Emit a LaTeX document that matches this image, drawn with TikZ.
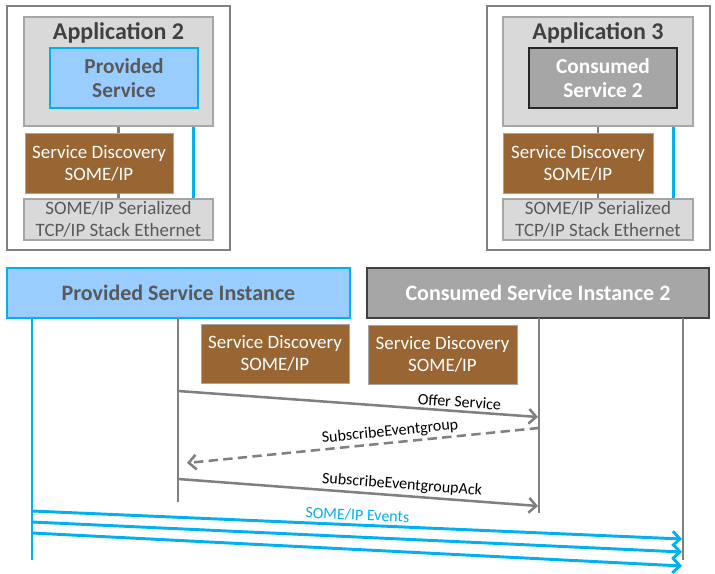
\documentclass[tikz,border=0pt]{standalone}
\usepackage{fontspec}
\setmainfont{Carlito}
\usetikzlibrary{arrows.meta,calc}
\definecolor{lblue}{HTML}{99CCFF}
\definecolor{sblue}{HTML}{00B0F0}
\definecolor{lgray}{HTML}{D9D9D9}
\definecolor{mgray}{HTML}{A6A6A6}
\definecolor{dgray}{HTML}{808080}
\definecolor{sdbrown}{HTML}{996633}
\definecolor{txtgray}{HTML}{595959}
\definecolor{ttlgray}{HTML}{404040}
\begin{document}
\begin{tikzpicture}[x=0.75pt,y=-0.75pt,
  wh/.style 2 args={minimum width=#1*0.75pt, minimum height=#2*0.75pt},
  box/.style={rectangle, inner sep=0pt, align=center},
  bigfont/.style={font=\bfseries\fontsize{16}{18}\selectfont},
  ttlfont/.style={font=\bfseries\fontsize{18}{20}\selectfont},
  hdrfont/.style={font=\bfseries\fontsize{16.5}{18}\selectfont},
  bodyfont/.style={font=\fontsize{14.2}{16.5}\selectfont},
  smallfont/.style={font=\fontsize{12}{13}\selectfont},
  frame/.style={box, draw=dgray, line width=0.8pt, fill=white},
  appbox/.style={box, draw=mgray, fill=lgray, line width=1pt},
  title/.style={box, ttlfont, text=ttlgray},
  provbox/.style={box, draw=sblue, fill=lblue, line width=0.9pt, bigfont, text=txtgray},
  consbox/.style={box, draw=black!85, fill=mgray, line width=0.9pt, bigfont, text=white},
  sdbox/.style={box, fill=sdbrown, draw=mgray, line width=0.5pt, text=white, bodyfont},
  stackbox/.style={box, draw=mgray, fill=lgray, line width=1pt, text=txtgray, bodyfont},
  gline/.style={draw=dgray, line width=1.9pt},
  bline/.style={draw=sblue, line width=2.2pt},
  tip/.style={-{Straight Barb[length=5.5pt,width=11pt]}},
  msglabel/.style={smallfont, sloped, above, inner sep=2pt}
]
\useasboundingbox (0,0) rectangle (715,574);

% ---- top left ----
\node[frame, wh={223}{244}] (frameL) at (118.5,128) {};
\node[appbox, wh={189}{109}] (app2) at (118.5,71.5) {};
\node[title] (app2t) at (118.5,33) {Application 2};
\node[provbox, wh={148}{60}] (prov) at (124,78) {Provided\\Service};
\node[sdbox, wh={148}{60}] (sdL) at (99,163) {Service Discovery\\SOME/IP};
\node[stackbox, wh={189}{41}] (stackL) at (118.5,219.5) {SOME/IP Serialized\\TCP/IP Stack Ethernet};
\draw[gline] (app2.south) -- (app2.south |- sdL.north);
\draw[gline] (sdL.south -| app2.south) -- (stackL.north);
\draw[bline] ($(app2.south east)+(-20,0)$) -- ($(stackL.north east)+(-20,0)$);

% ---- top right ----
\node[frame, wh={223}{244}] (frameR) at (598.5,128) {};
\node[appbox, wh={190}{109}] (app3) at (598,71.5) {};
\node[title] (app3t) at (598,33) {Application 3};
\node[consbox, wh={148}{60}] (cons) at (603,78) {Consumed\\Service 2};
\node[sdbox, wh={150}{60}] (sdR) at (578,163) {Service Discovery\\SOME/IP};
\node[stackbox, wh={190}{41}] (stackR) at (598,219.5) {SOME/IP Serialized\\TCP/IP Stack Ethernet};
\draw[gline] (app3.south) -- (app3.south |- sdR.north);
\draw[gline] (sdR.south -| app3.south) -- (stackR.north);
\draw[bline] ($(app3.south east)+(-20,0)$) -- ($(stackR.north east)+(-20,0)$);

% ---- instances ----
\node[provbox, hdrfont, wh={343}{50}] (provInst) at (178.5,293) {Provided Service Instance};
\node[consbox, hdrfont, draw=ttlgray, wh={342}{50}] (consInst) at (538,293) {Consumed Service Instance 2};
\node[sdbox, wh={148}{59}] (sdM1) at (275,353.5) {Service Discovery\\SOME/IP};
\node[sdbox, wh={149}{59}] (sdM2) at (442.5,354.5) {Service Discovery\\SOME/IP};

% ---- lifelines ----
\coordinate (bl0) at (32,318);  \coordinate (bl1) at (32,560);
\coordinate (gl0) at (178,318); \coordinate (gl1) at (178,502);
\coordinate (gr0) at (539,318); \coordinate (gr1) at (539,513);
\coordinate (gR0) at (683,318); \coordinate (gR1) at (683,560);
\draw[bline] (bl0) -- (bl1);
\draw[gline] (gl0) -- (gl1);
\draw[gline] (gr0) -- (gr1);
\draw[gline] (gR0) -- (gR1);

% ---- messages ----
\coordinate (o1) at (178,391); \coordinate (o2) at (538,417);
\coordinate (s1) at (539,428); \coordinate (s2) at (187,463);
\coordinate (a1) at (178,479); \coordinate (a2) at (538,506);
\draw[gline, tip] (o1) -- node[msglabel, pos=0.78] {Offer Service} (o2);
\draw[gline, tip, dash pattern=on 7pt off 4pt] (s1) -- node[msglabel, pos=0.42] {SubscribeEventgroup} (s2);
\draw[gline, tip] (a1) -- node[msglabel, pos=0.62] {SubscribeEventgroupAck} (a2);

\coordinate (e1a) at (32,511); \coordinate (e1b) at (682,539);
\coordinate (e2a) at (32,522); \coordinate (e2b) at (682,552);
\coordinate (e3a) at (32,533); \coordinate (e3b) at (682,566);
\draw[bline, tip] (e1a) -- node[msglabel, text=sblue, pos=0.5] {SOME/IP Events} (e1b);
\draw[bline, tip] (e2a) -- (e2b);
\draw[bline, tip] (e3a) -- (e3b);
\end{tikzpicture}
\end{document}
